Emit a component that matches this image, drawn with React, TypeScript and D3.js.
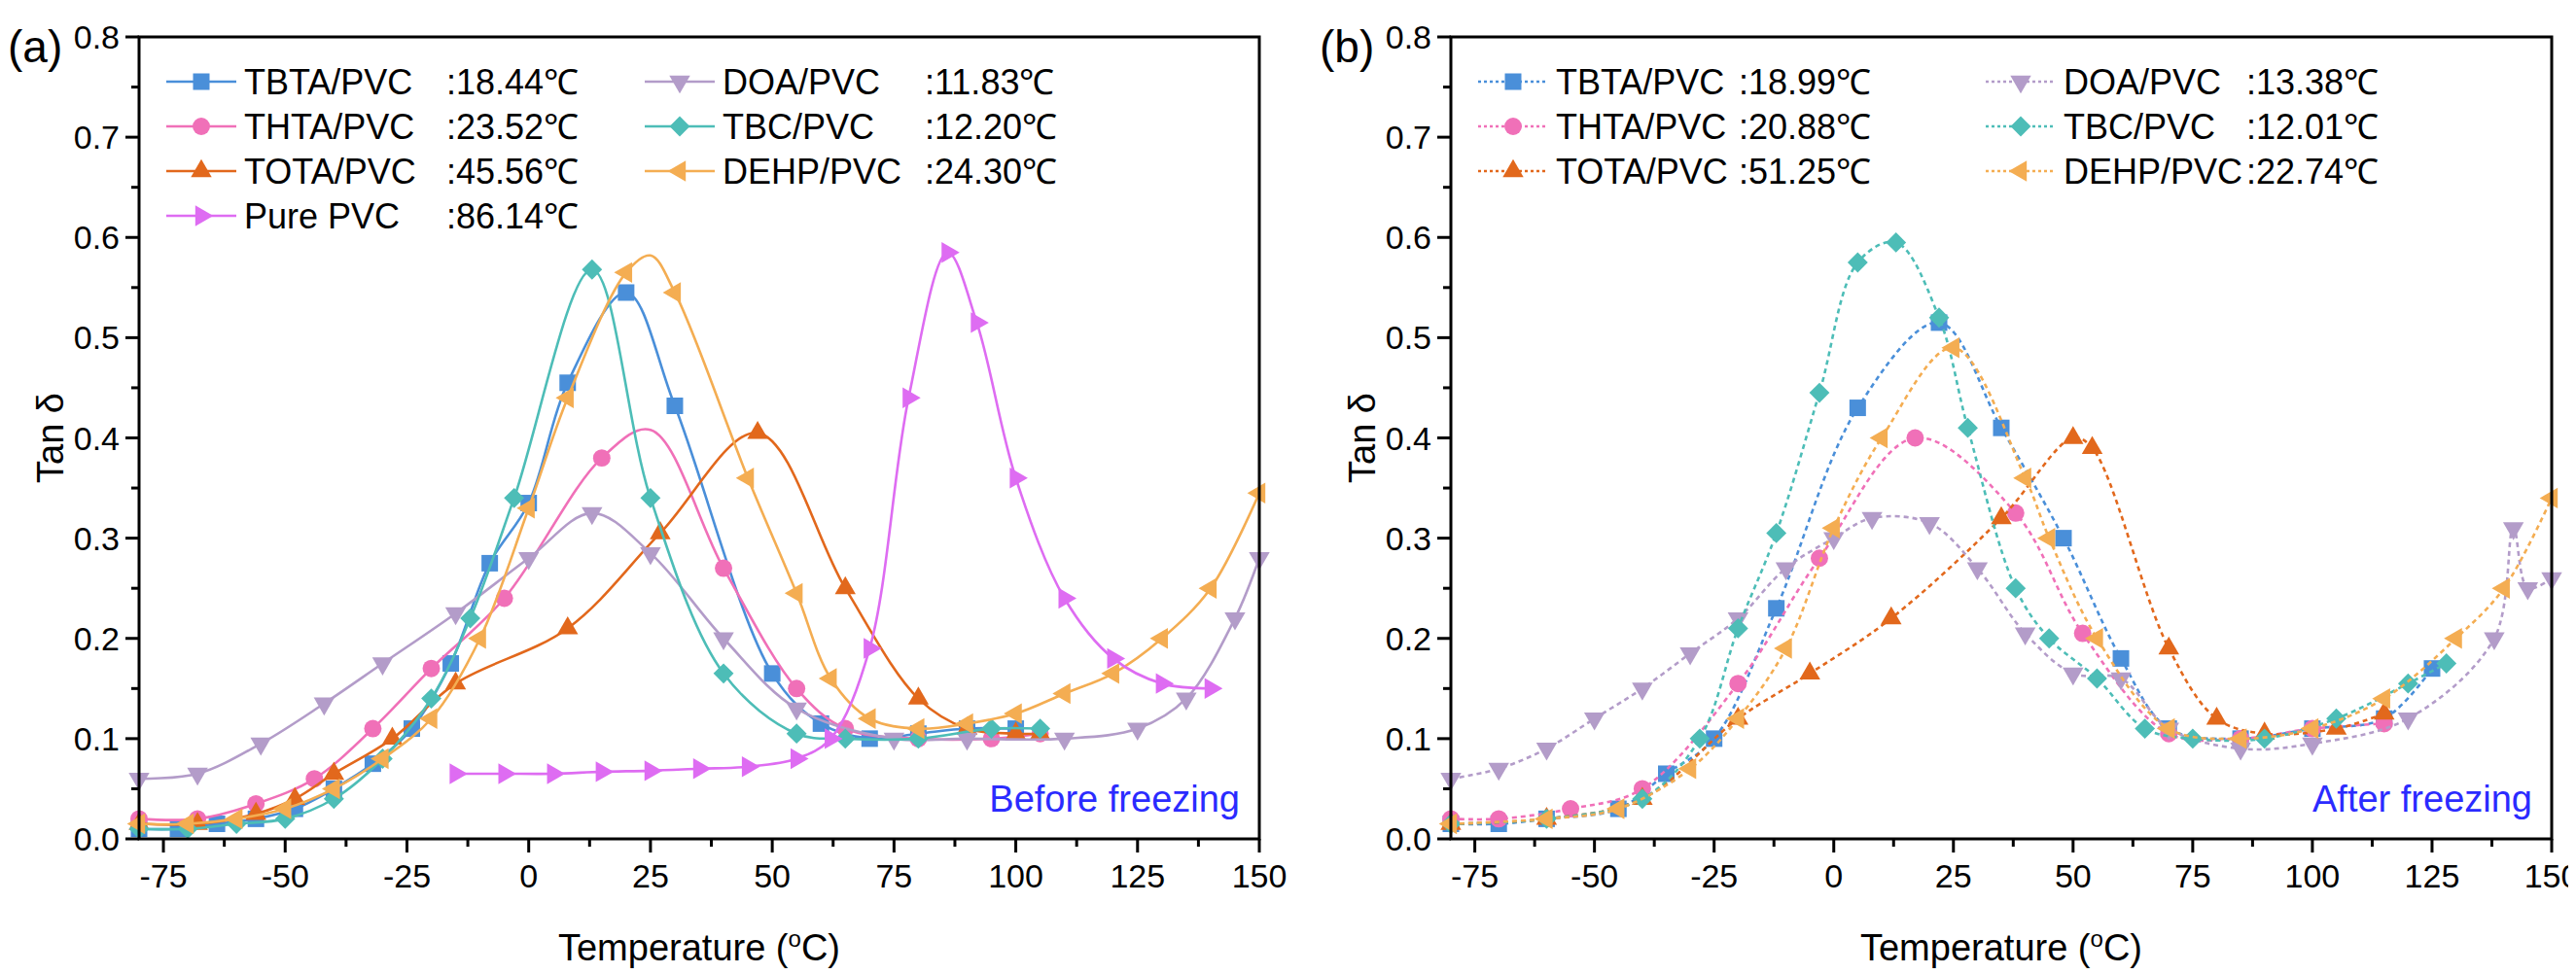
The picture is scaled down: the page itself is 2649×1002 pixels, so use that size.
import * as d3 from 'd3';

type P = [number, number];

const seriesNames = ['TBTA/PVC', 'THTA/PVC', 'TOTA/PVC', 'DOA/PVC', 'TBC/PVC', 'DEHP/PVC', 'Pure PVC'];
const colors = ['#4a8fd9', '#f070b8', '#e2681c', '#b39cc9', '#4dbdb7', '#f4ad52', '#de6cf2'];
const symbolKinds = ['square', 'circle', 'up', 'down', 'diamond', 'left', 'right'];

const tgA = [':18.44℃', ':23.52℃', ':45.56℃', ':11.83℃', ':12.20℃', ':24.30℃', ':86.14℃'];
const tgB = [':18.99℃', ':20.88℃', ':51.25℃', ':13.38℃', ':12.01℃', ':22.74℃'];

const tbtaA: P[] = [[-80, 0.01], [-72, 0.01], [-64, 0.015], [-56, 0.02], [-48, 0.03], [-40, 0.05], [-32, 0.075], [-24, 0.11], [-16, 0.175], [-8, 0.275], [0, 0.335], [8, 0.455], [20, 0.545], [30, 0.432], [50, 0.165], [60, 0.115], [70, 0.1], [80, 0.105], [90, 0.11], [100, 0.11]];
const thtaA: P[] = [[-80, 0.02], [-68, 0.02], [-56, 0.035], [-44, 0.06], [-32, 0.11], [-20, 0.17], [-5, 0.24], [15, 0.38], [40, 0.27], [55, 0.15], [65, 0.11], [80, 0.1], [95, 0.1], [105, 0.105]];
const thtaAPeak: P = [25, 0.408];
const totaA: P[] = [[-80, 0.015], [-68, 0.015], [-56, 0.025], [-48, 0.04], [-40, 0.065], [-28, 0.1], [-15, 0.155], [8, 0.21], [27, 0.305], [47, 0.405], [65, 0.25], [80, 0.14], [90, 0.11], [100, 0.105], [105, 0.105]];
const doaA: P[] = [[-80, 0.06], [-68, 0.065], [-55, 0.095], [-42, 0.135], [-30, 0.175], [-15, 0.225], [0, 0.28], [13, 0.325], [25, 0.285], [40, 0.2], [55, 0.13], [75, 0.1], [90, 0.1], [110, 0.1], [125, 0.11], [135, 0.14], [145, 0.22], [150, 0.28]];
const tbcA: P[] = [[-80, 0.01], [-70, 0.01], [-60, 0.015], [-50, 0.02], [-40, 0.04], [-30, 0.08], [-20, 0.14], [-12, 0.22], [-3, 0.34], [13, 0.568], [25, 0.34], [40, 0.165], [55, 0.105], [65, 0.1], [80, 0.1], [95, 0.11], [105, 0.11]];
const dehpA: P[] = [[-80, 0.015], [-70, 0.015], [-60, 0.02], [-50, 0.03], [-40, 0.05], [-30, 0.08], [-20, 0.12], [-10, 0.2], [0, 0.33], [8, 0.44], [20, 0.565], [30, 0.545], [45, 0.36], [55, 0.245], [62, 0.16], [70, 0.12], [80, 0.11], [90, 0.115], [100, 0.125], [110, 0.145], [120, 0.165], [130, 0.2], [140, 0.25], [150, 0.345]];
const dehpAPeak: P = [25, 0.582];
const pvcA: P[] = [[-15, 0.065], [-5, 0.065], [5, 0.065], [15, 0.067], [25, 0.068], [35, 0.07], [45, 0.072], [55, 0.08], [62, 0.1], [70, 0.19], [78, 0.44], [86, 0.585], [92, 0.515], [100, 0.36], [110, 0.24], [120, 0.18], [130, 0.155], [140, 0.15]];

const tbtaB: P[] = [[-80, 0.015], [-70, 0.015], [-60, 0.02], [-45, 0.03], [-35, 0.065], [-25, 0.1], [-12, 0.23], [5, 0.43], [22, 0.515], [35, 0.41], [48, 0.3], [60, 0.18], [70, 0.11], [85, 0.1], [100, 0.11], [115, 0.12], [125, 0.17]];
const thtaB: P[] = [[-80, 0.02], [-70, 0.02], [-55, 0.03], [-40, 0.05], [-20, 0.155], [-3, 0.28], [17, 0.4], [38, 0.325], [52, 0.205], [70, 0.105], [85, 0.1], [100, 0.11], [115, 0.115]];
const totaB: P[] = [[-80, 0.015], [-60, 0.02], [-40, 0.04], [-20, 0.12], [-5, 0.165], [12, 0.22], [35, 0.32], [50, 0.4], [54, 0.39], [70, 0.19], [80, 0.12], [90, 0.105], [105, 0.11], [115, 0.125]];
const doaB: P[] = [[-80, 0.06], [-70, 0.07], [-60, 0.09], [-50, 0.12], [-40, 0.15], [-30, 0.185], [-20, 0.22], [-10, 0.27], [0, 0.3], [8, 0.32], [20, 0.315], [30, 0.27], [40, 0.205], [50, 0.165], [60, 0.16], [70, 0.11], [85, 0.09], [100, 0.095], [120, 0.12], [138, 0.2], [142, 0.31], [145, 0.25], [150, 0.26]];
const tbcB: P[] = [[-80, 0.015], [-60, 0.02], [-40, 0.04], [-28, 0.1], [-20, 0.21], [-12, 0.305], [-3, 0.445], [5, 0.575], [13, 0.595], [22, 0.52], [28, 0.41], [38, 0.25], [45, 0.2], [55, 0.16], [65, 0.11], [75, 0.1], [90, 0.1], [105, 0.12], [120, 0.155], [128, 0.175]];
const dehpB: P[] = [[-80, 0.015], [-60, 0.02], [-45, 0.03], [-30, 0.07], [-20, 0.12], [-10, 0.19], [0, 0.31], [10, 0.4], [25, 0.49], [40, 0.36], [45, 0.3], [55, 0.2], [70, 0.11], [85, 0.1], [100, 0.11], [115, 0.14], [130, 0.2], [140, 0.25], [150, 0.34]];

const panelA = [tbtaA, thtaA, totaA, doaA, tbcA, dehpA, pvcA];
const peaksA: (P | null)[] = [null, thtaAPeak, null, null, null, dehpAPeak, null];
const panelB = [tbtaB, thtaB, totaB, doaB, tbcB, dehpB];

const xTicks = [-75, -50, -25, 0, 25, 50, 75, 100, 125, 150];
const yTicks = [0, 0.1, 0.2, 0.3, 0.4, 0.5, 0.6, 0.7, 0.8];

const W = 2649, H = 1002;
const top = 30, bottom = 855;
const font = 'Liberation Sans, Arial, sans-serif';

function marker(kind: string, size: number) {
  let type = d3.symbolTriangle, rot = 0, s = size * size * 0.55;
  if (kind === 'square') { type = d3.symbolSquare; s = size * size * 0.8; }
  if (kind === 'circle') { type = d3.symbolCircle; s = size * size * 0.7; }
  if (kind === 'diamond') { type = d3.symbolSquare; rot = 45; s = size * size * 0.6; }
  if (kind === 'down') rot = 180;
  if (kind === 'left') rot = -90;
  if (kind === 'right') rot = 90;
  return { d: d3.symbol().type(type).size(s)(), rot };
}

function Panel({ x0, x1, data, peaks, tgs, label, note, dashed }: any) {
  const x = d3.scaleLinear().domain([-80, 150]).range([x0, x1]);
  const y = d3.scaleLinear().domain([0, 0.8]).range([bottom, top]);
  const line = d3.line<P>().x(d => x(d[0])).y(d => y(d[1])).curve(d3.curveCatmullRom.alpha(0.5));
  const minorY = d3.range(0.05, 0.8, 0.1);
  const minorX = d3.range(-62.5, 150, 25);
  const legX = [x0 + 28, x0 + (dashed ? 550 : 520)];
  const rowH = 46;
  return (
    <g fontFamily={font}>
      <defs>
        <clipPath id={`clip${label}`}><rect x={x0} y={top} width={x1 - x0} height={bottom - top} /></clipPath>
      </defs>
      <g clipPath={`url(#clip${label})`}>
        {data.map((pts: P[], i: number) => {
          const m = marker(symbolKinds[i], 19);
          const pk = peaks && peaks[i];
          const linePts = pk ? [...pts, pk].sort((a, b) => a[0] - b[0]) : pts;
          return (
            <g key={i}>
              <path d={line(linePts) ?? ''} fill="none" stroke={colors[i]} strokeWidth={2.6} strokeDasharray={dashed ? '5 4' : undefined} />
              {pts.map((p, j) => (
                <path key={j} d={m.d} fill={colors[i]} transform={`translate(${x(p[0])},${y(p[1])}) rotate(${m.rot})`} />
              ))}
            </g>
          );
        })}
      </g>
      <rect x={x0} y={top} width={x1 - x0} height={bottom - top} fill="none" stroke="#000" strokeWidth={3} />
      {yTicks.map(t => (
        <g key={t}>
          <line x1={x0 - 14} x2={x0} y1={y(t)} y2={y(t)} stroke="#000" strokeWidth={3} />
          <text x={x0 - 20} y={y(t) + 12} textAnchor="end" fontSize={34}>{t.toFixed(1)}</text>
        </g>
      ))}
      {minorY.map(t => <line key={t} x1={x0 - 8} x2={x0} y1={y(t)} y2={y(t)} stroke="#000" strokeWidth={3} />)}
      {xTicks.map(t => (
        <g key={t}>
          <line x1={x(t)} x2={x(t)} y1={bottom} y2={bottom + 14} stroke="#000" strokeWidth={3} />
          <text x={x(t)} y={bottom + 50} textAnchor="middle" fontSize={34}>{t}</text>
        </g>
      ))}
      {minorX.map(t => <line key={t} x1={x(t)} x2={x(t)} y1={bottom} y2={bottom + 8} stroke="#000" strokeWidth={3} />)}
      <text x={(x0 + x1) / 2} y={H - 22} textAnchor="middle" fontSize={38}>Temperature (<tspan dy={-14} fontSize={24}>o</tspan><tspan dy={14}>C)</tspan></text>
      <text transform={`translate(${x0 - 78},${(top + bottom) / 2}) rotate(-90)`} textAnchor="middle" fontSize={38}>Tan δ</text>
      <text x={x0 - 135} y={top + 26} fontSize={46}>{label}</text>
      <text x={x1 - 20} y={bottom - 28} textAnchor="end" fontSize={38} fill="#2b2bff">{note}</text>
      {tgs.map((tg: string, i: number) => {
        const col = i < 3 ? 0 : 1;
        const row = i < 3 ? i : i - 3;
        const r = i === 6 ? 3 : row;
        const c = i === 6 ? 0 : col;
        const lx = legX[c];
        const ly = top + 46 + r * rowH;
        const m = marker(symbolKinds[i], 19);
        return (
          <g key={i}>
            <line x1={lx} x2={lx + 72} y1={ly} y2={ly} stroke={colors[i]} strokeWidth={2.6} strokeDasharray={dashed ? '3 3' : undefined} />
            <path d={m.d} fill={colors[i]} transform={`translate(${lx + 36},${ly}) rotate(${m.rot})`} />
            <text x={lx + 80} y={ly + 13} fontSize={36}>{seriesNames[i]}</text>
            <text x={lx + (dashed ? 268 : 288)} y={ly + 13} fontSize={36}>{tg}</text>
          </g>
        );
      })}
    </g>
  );
}

export default function App() {
  return (
    <svg width={W} height={H} style={{ display: 'block', background: '#fff' }}>
      <Panel x0={135} x1={1287} data={panelA} peaks={peaksA} tgs={tgA} label="(a)" note="Before freezing" dashed={false} />
      <Panel x0={1484} x1={2616} data={panelB} peaks={null} tgs={tgB} label="(b)" note="After freezing" dashed={true} />
    </svg>
  );
}
